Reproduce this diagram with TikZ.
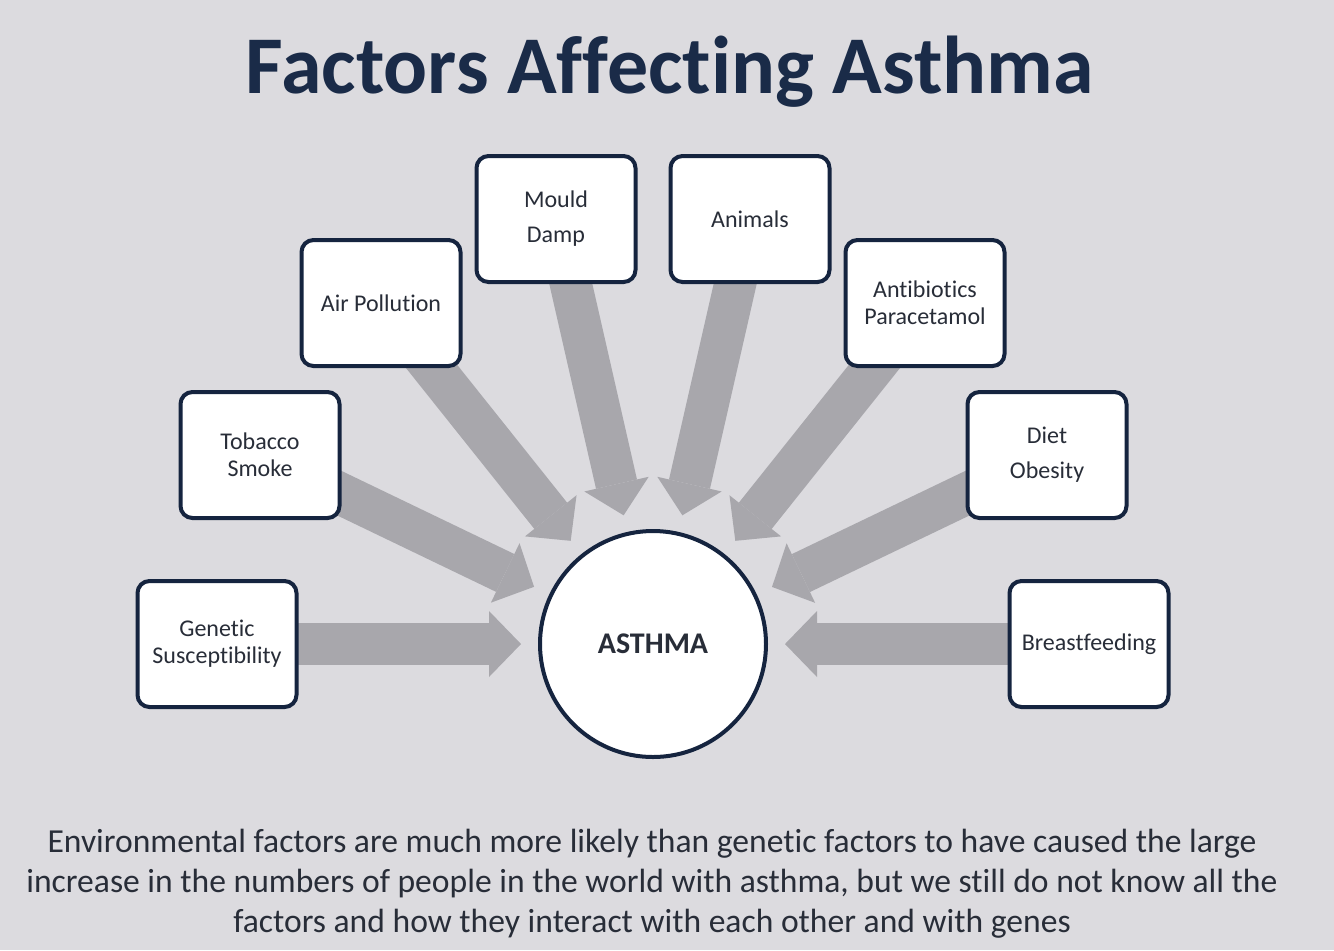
\documentclass[tikz,border=0pt]{standalone}
\usepackage{fontspec}
\setmainfont{Carlito}[Ligatures=NoCommon]
\usetikzlibrary{arrows.meta,backgrounds}
\definecolor{slidebg}{RGB}{220,219,223}
\definecolor{navy}{RGB}{21,36,63}
\definecolor{headink}{RGB}{26,43,72}
\definecolor{ink}{RGB}{40,45,56}
\definecolor{fatgrey}{RGB}{168,167,172}
\tikzset{
  factor/.style={draw=navy,line width=2pt,fill=white,rounded corners=6pt,minimum width=79.5pt,minimum height=63pt,align=center,text=ink,font=\fontsize{12}{13.5}\selectfont},
  core/.style={circle,draw=navy,line width=2pt,fill=white,minimum size=113pt,text=ink,font=\bfseries\fontsize{15}{17}\selectfont},
  fat/.style={draw=fatgrey,line width=21pt,-{Triangle[width=33pt,length=16pt,line width=0pt]},shorten >=8.5pt}
}

\begin{document}
\begin{tikzpicture}[x=0.5pt,y=-0.5pt]
  \useasboundingbox (0,0) rectangle (1334,950);
  % title
  \node[anchor=base,text=headink,font=\bfseries\fontsize{41}{47}\selectfont] (title) at (670,93) {Factors Affecting Asthma};
  % centre and factors
  \node[core] (ast) at (653,644) {ASTHMA};
  \node[factor] (gen) at (217,644) {Genetic\\Susceptibility};
  \node[factor] (tob) at (260,455) {Tobacco\\Smoke};
  \node[factor] (air) at (381,303) {Air Pollution};
  \node[factor] (mou) at (556,219) {Mould\\[4pt]Damp};
  \node[factor] (ani) at (750,219) {Animals};
  \node[factor] (abx) at (925,303) {Antibiotics\\Paracetamol};
  \node[factor] (die) at (1047,455) {Diet\\[4pt]Obesity};
  \node[factor] (brf) at (1089,644) {Breastfeeding};
  % footnote
  \node[align=center,text=ink,font=\fontsize{16.8}{20}\selectfont] (note) at (652,884)
    {Environmental factors are much more likely than genetic factors to have caused the large\\
     increase in the numbers of people in the world with asthma, but we still do not know all the\\
     factors and how they interact with each other and with genes};
  \begin{scope}[on background layer]
    \fill[slidebg] (0,0) rectangle (1334,950);
    \foreach \f in {gen,tob,air,mou,ani,abx,die,brf}
      \draw[fat] (\f.center) -- (ast);
  \end{scope}
\end{tikzpicture}
\end{document}
